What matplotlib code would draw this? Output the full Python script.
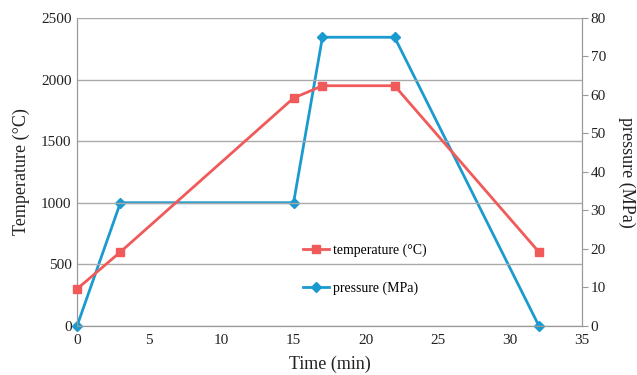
import matplotlib
matplotlib.use("Agg")
import matplotlib.pyplot as plt

time = [0, 3, 15, 17, 22, 32]
temperature = [300, 600, 1850, 1950, 1950, 600]
pressure = [0, 32, 32, 75, 75, 0]

plt.rcParams['font.family'] = ['Liberation Serif', 'DejaVu Serif']

fig = plt.figure(figsize=(6.37, 3.75), dpi=100)
ax = fig.add_axes([0.121, 0.131, 0.793, 0.821])
ax2 = ax.twinx()

c_t = '#F05A5A'
c_p = '#1B9AD0'
gray = '#999999'

lt, = ax.plot(time, temperature, color=c_t, marker='s', markersize=6, lw=2, label='temperature (°C)', zorder=3, clip_on=False)
lp, = ax2.plot(time, pressure, color=c_p, marker='D', markersize=5, lw=2, label='pressure (MPa)', zorder=3, clip_on=False)
ax.patch.set_visible(False)
ax2.set_zorder(1)
ax.set_zorder(ax2.get_zorder() + 1)

ax.set_xlim(0, 35)
ax.set_ylim(0, 2500)
ax2.set_ylim(0, 80)
ax.set_xticks(range(0, 36, 5))
ax.set_yticks(range(0, 2501, 500))
ax2.set_yticks(range(0, 81, 10))

ax.yaxis.grid(True, color='#aaaaaa', lw=1)
ax.set_axisbelow(True)

for a in (ax, ax2):
    for s in a.spines.values():
        s.set_color(gray)
ax.spines['top'].set_visible(False)
ax2.spines['top'].set_visible(False)

ax.tick_params(axis='both', length=0, labelsize=11, colors='#222222', pad=4)
ax.tick_params(axis='x', pad=6)
ax2.tick_params(axis='y', length=4, color=gray, labelsize=11, labelcolor='#222222', pad=2)

ax.set_xlabel('Time (min)', fontsize=13, color='#222222', labelpad=6)
ax.set_ylabel('Temperature (°C)', fontsize=13, color='#222222', labelpad=8)
ax2.set_ylabel('pressure (MPa)', fontsize=13, color='#222222', rotation=270, labelpad=21)

ax.legend([lt, lp], ['temperature (°C)', 'pressure (MPa)'], loc='center left',
          bbox_to_anchor=(0.422, 0.184), frameon=False, fontsize=10,
          labelspacing=1.75, handlelength=1.9, handletextpad=0.3)

fig.savefig('out.png', dpi=100)
